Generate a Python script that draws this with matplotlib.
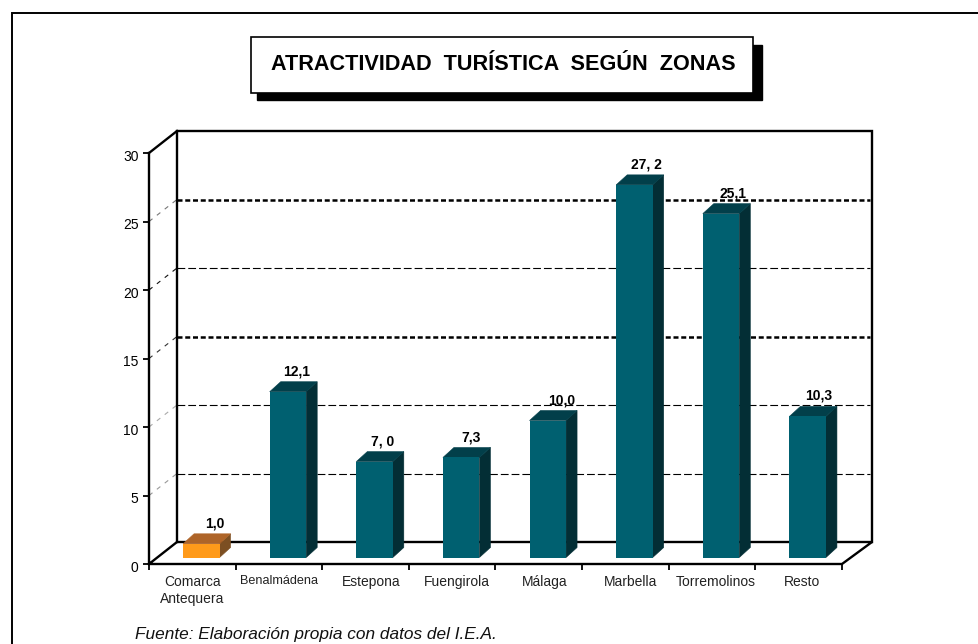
import matplotlib
matplotlib.use('Agg')
import matplotlib.pyplot as plt
from matplotlib.patches import Polygon, Rectangle
from matplotlib.transforms import ScaledTranslation

# datos
zonas = ['Comarca\nAntequera', 'Benalmádena', 'Estepona', 'Fuengirola', 'Málaga',
         'Marbella', 'Torremolinos', 'Resto']
valores = [1.0, 12.1, 7.0, 7.3, 10.0, 27.2, 25.1, 10.3]
etiquetas = ['1,0', '12,1', '7, 0', '7,3', '10,0', '27, 2', '25,1', '10,3']
y_ticks = [0, 5, 10, 15, 20, 25, 30]
grid_gruesa = [25, 15]
grid_fina = [20, 10, 5]
diag_color = {5: '#999999', 10: '#aaaaaa', 15: '#333333', 20: '#111111', 25: '#777777'}
zona_dx = [0, 0, 6, 5, 6, 5, 4, 3]  # desplazamiento de cada rotulo, px
etiq_dx = [-3.5, -7, -7, -6, -3, -4.5, -4.5, -5.5]  # idem para los valores, pt

W, H = 979, 644
plt.rcParams['font.family'] = ['Liberation Sans', 'DejaVu Sans']

fig = plt.figure(figsize=(W / 100, H / 100), dpi=100)

# plano frontal del grafico: x 149-842 px, y 153-564 px
x0, x1, ytop, ybot = 149, 842, 153, 564
ax = fig.add_axes([x0 / W, 1 - ybot / H, (x1 - x0) / W, (ybot - ytop) / H])
ax.set_xlim(-0.5, 7.5)
ax.set_ylim(0, 30)
ax.patch.set_visible(False)
for s in ax.spines.values():
    s.set_visible(False)

px = (x1 - x0) / 8.0     # pixeles por categoria
py = (ybot - ytop) / 30.0  # pixeles por unidad
fx = 28 / px             # fondo de la caja
fx2 = 30 / px
fy = 22 / py
bx = 11 / px             # fondo de cada barra
by = 10 / py
base = 6.5 / py          # la barra no arranca en el borde del suelo
ancho = 36.5 / px
shift = 9 / px

# pared del fondo
ax.plot([-0.5 + fx, -0.5 + fx, 7.5 + fx2, 7.5 + fx2], [fy, 30 + fy, 30 + fy, fy],
        color='black', lw=1.7, clip_on=False, solid_joinstyle='miter', zorder=2)
ax.plot([-0.5, -0.5 + fx], [30, 30 + fy], color='black', lw=1.7, clip_on=False, zorder=2)
# suelo
ax.plot([-0.5, -0.5 + fx, 7.5 + fx2, 7.5, -0.5, -0.5], [0, fy, fy, 0, 0, 30],
        color='black', lw=1.7, clip_on=False, solid_joinstyle='miter', zorder=2)

# lineas de division
for v in grid_gruesa:
    ax.plot([-0.5 + fx, 7.5 + fx], [v + fy, v + fy], color='black', lw=1.8,
            dashes=(2, 1.1), clip_on=False, zorder=1)
for v in grid_fina:
    ax.plot([-0.5 + fx, 7.5 + fx], [v + fy, v + fy], color='black', lw=0.8,
            dashes=(7, 2.7), clip_on=False, zorder=1)
for v in y_ticks[1:-1]:
    ax.plot([-0.5, -0.5 + fx], [v, v + fy], color=diag_color[v], lw=0.8,
            dashes=(4, 5), clip_on=False, zorder=1)

# ticks
ax.set_yticks(y_ticks)
ax.set_xticks([i - 0.5 for i in range(9)])
ax.set_xticklabels([])
ax.tick_params(axis='y', length=4.5, width=1.3, labelsize=10, pad=3, colors='black')
ax.tick_params(axis='x', length=4, width=1.3)
baja = ScaledTranslation(0, -1.5 / 72, fig.dpi_scale_trans)
for lab in ax.get_yticklabels():
    lab.set_transform(lab.get_transform() + baja)
for i, z in enumerate(zonas):
    fs = 9.1 if z == 'Benalmádena' else 10
    ax.text(i + zona_dx[i] / px, -0.8, z, ha='center', va='top', fontsize=fs,
            color='#222222', linespacing=1.25)

# barras
for i, v in enumerate(valores):
    frente, lado, arriba = ('#006070', '#032E35', '#023F4A')
    if i == 0:
        frente, lado, arriba = ('#FF9A1A', '#7C4F22', '#AE6428')
    xc = i + shift
    l, r = xc - ancho / 2, xc + ancho / 2
    t = base + v
    ax.add_patch(Polygon([(r, base), (r + bx, base + by), (r + bx, t + by), (r, t)],
                         facecolor=lado, edgecolor=lado, lw=0.4, zorder=3, clip_on=False))
    ax.add_patch(Polygon([(l, t), (l + bx, t + by), (r + bx, t + by), (r, t)],
                         facecolor=arriba, edgecolor=arriba, lw=0.4, zorder=3, clip_on=False))
    ax.bar(xc, v, width=ancho, bottom=base, color=frente, zorder=3.5, linewidth=0)
    ax.annotate(etiquetas[i], (r, t + by), xytext=(etiq_dx[i], 2.5), textcoords='offset points',
                ha='center', va='bottom', fontsize=10, fontweight='bold', zorder=4,
                annotation_clip=False)

# marco exterior (solo izquierda y arriba) y titulo
fig.add_artist(plt.Line2D([11.5 / W, 11.5 / W, 1], [0, 1 - 13 / H, 1 - 13 / H],
                          color='black', lw=1.4, solid_joinstyle='miter'))
fig.add_artist(Rectangle((257 / W, 1 - 100 / H), 505 / W, 55 / H, transform=fig.transFigure,
                         facecolor='black', edgecolor='black', lw=1))
fig.add_artist(Rectangle((251 / W, 1 - 93 / H), 502 / W, 56 / H, transform=fig.transFigure,
                         facecolor='white', edgecolor='black', lw=1.2))
fig.text(503 / W, 1 - 64 / H, 'ATRACTIVIDAD  TURÍSTICA  SEGÚN  ZONAS', ha='center', va='center',
         fontsize=15.6, fontweight='bold')
fig.text(135 / W, 1 - 634 / H, 'Fuente: Elaboración propia con datos del I.E.A.', ha='left',
         va='center', fontsize=12.4, style='italic', color='#111111')

fig.savefig('out.png', dpi=100)
